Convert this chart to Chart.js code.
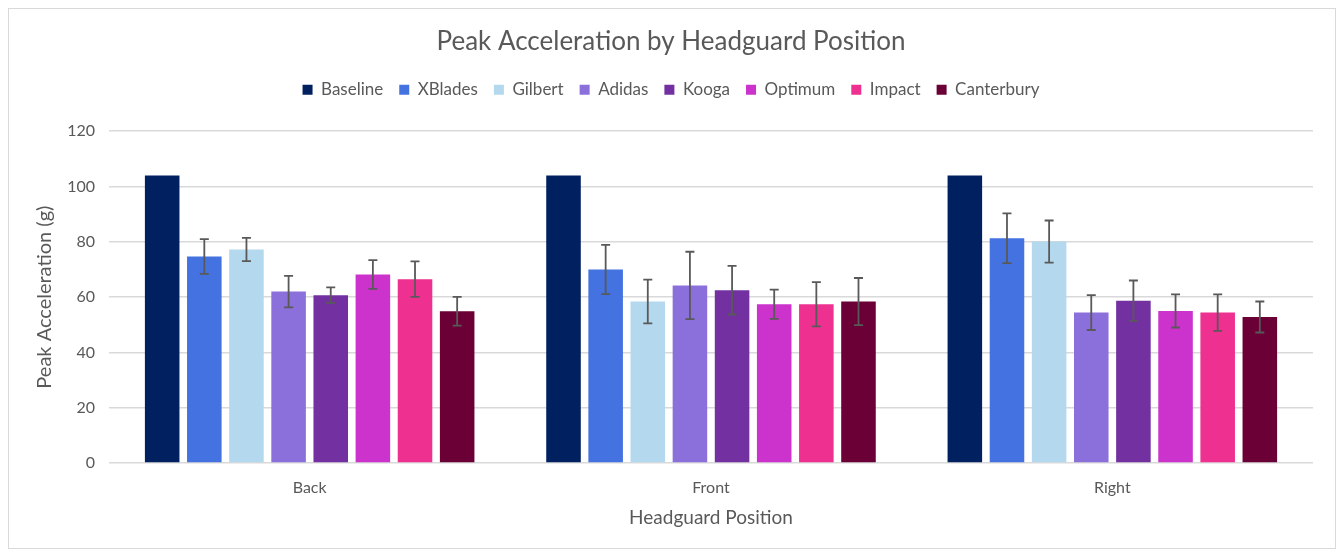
<!DOCTYPE html>
<html>
<head>
<meta charset="utf-8">
<script src="https://cdn.jsdelivr.net/npm/chart.js@4.4.1/dist/chart.umd.min.js"></script>
<style>
  body { margin: 0; background: #fff; }
  #box {
    position: absolute; left: 8px; top: 8px;
    width: 1328px; height: 541px;
    border: 1px solid #d9d9d9; box-sizing: border-box;
  }
  canvas { display: block; }
</style>
</head>
<body>
<div id="box"><canvas id="myCanvas"></canvas></div>
<script>
// data
var positions = ["Back", "Front", "Right"];
var brands = ["Baseline", "XBlades", "Gilbert", "Adidas", "Kooga", "Optimum", "Impact", "Canterbury"];

var baseline   = [104, 104, 104];
var xblades    = [74.7, 70.0, 81.3];
var gilbert    = [77.2, 58.4, 80.1];
var adidas     = [62.0, 64.2, 54.4];
var kooga      = [60.7, 62.5, 58.7];
var optimum    = [68.2, 57.4, 55.0];
var impact     = [66.5, 57.4, 54.4];
var canterbury = [54.9, 58.4, 52.8];

// +/- error (g)
var errBaseline   = [0, 0, 0];
var errXblades    = [6.3, 8.9, 9.0];
var errGilbert    = [4.2, 7.9, 7.6];
var errAdidas     = [5.7, 12.2, 6.3];
var errKooga      = [2.8, 8.8, 7.3];
var errOptimum    = [5.2, 5.3, 6.0];
var errImpact     = [6.4, 8.0, 6.6];
var errCanterbury = [5.2, 8.5, 5.6];

var colors = ["#002060", "#4472e0", "#b4d9ee", "#8b6fdb", "#7330a0", "#cc33cc", "#ee3090", "#6a0035"];

var series = [baseline, xblades, gilbert, adidas, kooga, optimum, impact, canterbury];
var errors = [errBaseline, errXblades, errGilbert, errAdidas, errKooga, errOptimum, errImpact, errCanterbury];

var textColor = "#595959";
var fontName = "Lato, 'Open Sans', sans-serif";

var datasets = [];
for (var i = 0; i < brands.length; i++) {
  datasets.push({
    label: brands[i],
    data: series[i],
    errs: errors[i],
    backgroundColor: colors[i],
    borderWidth: 0
  });
}

// draws the whiskers through the chart's own scales
var errorBars = {
  id: "errorBars",
  afterDatasetsDraw: function (chart) {
    var ctx = chart.ctx;
    var yScale = chart.scales.y;
    ctx.save();
    ctx.strokeStyle = "#595959";
    ctx.lineWidth = 1.8;
    chart.data.datasets.forEach(function (ds, i) {
      var meta = chart.getDatasetMeta(i);
      meta.data.forEach(function (bar, j) {
        var e = ds.errs[j];
        if (!e) return;
        var v = ds.data[j];
        var top = yScale.getPixelForValue(v + e);
        var bot = yScale.getPixelForValue(v - e);
        var x = bar.x;
        ctx.beginPath();
        ctx.moveTo(x, top); ctx.lineTo(x, bot);
        ctx.moveTo(x - 4.5, top); ctx.lineTo(x + 4.5, top);
        ctx.moveTo(x - 4.5, bot); ctx.lineTo(x + 4.5, bot);
        ctx.stroke();
      });
    });
    ctx.restore();
  }
};

// extra room under the legend
var legendGap = {
  id: "legendGap",
  beforeInit: function (chart) {
    var fit = chart.legend.fit;
    chart.legend.fit = function () {
      fit.bind(chart.legend)();
      this.height += 23;
    };
  }
};

var ctx = document.getElementById("myCanvas").getContext("2d");
new Chart(ctx, {
  type: "bar",
  data: { labels: positions, datasets: datasets },
  plugins: [errorBars, legendGap],
  options: {
    responsive: true,
    maintainAspectRatio: false,
    animation: false,
    layout: { padding: { left: 20, right: 22, top: 6, bottom: 19 } },
    datasets: { bar: { categoryPercentage: 0.84, barPercentage: 0.82 } },
    plugins: {
      title: {
        display: true,
        text: "Peak Acceleration by Headguard Position",
        color: textColor,
        font: { family: fontName, size: 26, weight: "normal" },
        padding: { top: 11, bottom: 8 }
      },
      legend: {
        position: "top",
        labels: {
          color: textColor,
          font: { family: fontName, size: 17 },
          boxWidth: 10,
          boxHeight: 10,
          padding: 16
        }
      },
      tooltip: { enabled: false }
    },
    scales: {
      x: {
        grid: { display: false },
        border: { display: false },
        ticks: { color: textColor, font: { family: fontName, size: 16 }, padding: 7 },
        title: {
          display: true,
          text: "Headguard Position",
          color: textColor,
          font: { family: fontName, size: 19 },
          padding: { top: 2, bottom: 0 }
        }
      },
      y: {
        min: 0,
        max: 120,
        ticks: { stepSize: 20, color: textColor, font: { family: fontName, size: 16 }, padding: 14 },
        grid: { color: "#d9d9d9", lineWidth: 1.5, drawTicks: false },
        border: { display: false },
        title: {
          display: true,
          text: "Peak Acceleration (g)",
          color: textColor,
          font: { family: fontName, size: 20 }
        },
        afterFit: function (scale) { scale.width = 80; }
      }
    }
  }
});
</script>
</body>
</html>
